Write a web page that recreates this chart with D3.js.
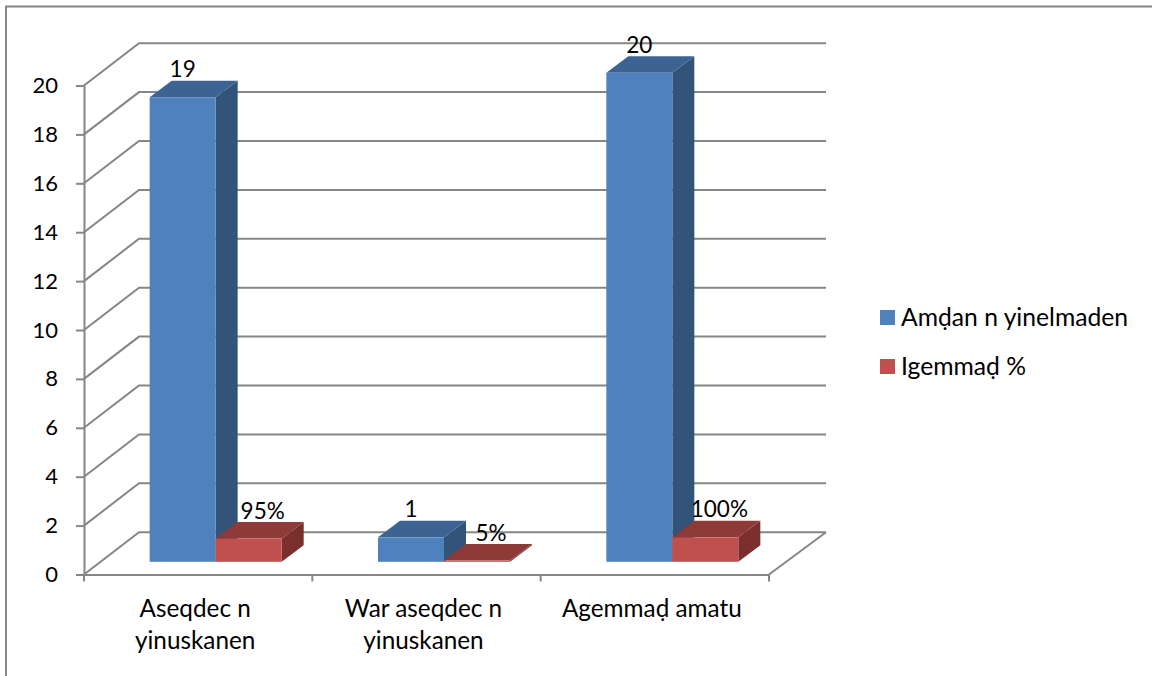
<!DOCTYPE html>
<html>
<head>
<meta charset="utf-8">
<style>
  html, body { margin: 0; padding: 0; background: #fff; }
  svg { display: block; }
  text { font-family: Lato, "Noto Sans", sans-serif; fill: #000; }
  .axis text { font-size: 22px; }
  .axis path, .axis line, .grid { stroke: #868686; stroke-width: 2px; fill: none; }
</style>
<script src="https://cdn.jsdelivr.net/npm/d3@7"></script>
</head>
<body>
<div id="chart"></div>
<script>
var width = 1152,
    height = 676;

// values
var categories = ["Aseqdec n yinuskanen", "War aseqdec n yinuskanen", "Agemmaḍ amatu"];
var categoryLines = [["Aseqdec n", "yinuskanen"], ["War aseqdec n", "yinuskanen"], ["Agemmaḍ amatu"]];
var seriesNames = ["Amḍan n yinelmaden", "Igemmaḍ %"];
var amdan = [19, 1, 20];
var igemmad = [0.95, 0.05, 1];
var yTicks = [0, 2, 4, 6, 8, 10, 12, 14, 16, 18, 20];

var front = ["#4f81bd", "#c0504d"],
    top3d = ["#3c6391", "#8e3a38"],
    side = ["#325479", "#7a2f2d"];

// 3d box of the plot
var wallX = 55, wallY = -42.3;   // depth of the floor
var barDX = 22, barDY = -16.5;   // depth of a bar
var floorDX = 17.5, floorDY = -12.7; // where the bars stand on the floor

var x = d3.scaleBand().domain(categories).range([84, 769]);
var y = d3.scaleLinear().domain([0, 20]).range([574.5, 85.5]);
var xInner = d3.scaleBand().domain(seriesNames).range([0, 132]);
var groupOffset = (x.bandwidth() - 132) / 2 + floorDX;

var svg = d3.select("#chart").append("svg")
    .attr("width", width)
    .attr("height", height);

// frame, cut off on the right and at the bottom
svg.append("path")
    .attr("d", "M6,676V6.5H1152")
    .attr("fill", "none")
    .attr("stroke", "#868686")
    .attr("stroke-width", 2);

// wall and floor lines
svg.append("g").selectAll("path")
    .data(yTicks)
    .enter().append("path")
    .attr("class", "grid")
    .attr("d", function(d) {
      return d3.line()([
        [x.range()[0], y(d)],
        [x.range()[0] + wallX, y(d) + wallY],
        [x.range()[1] + wallX + 2, y(d) + wallY]
      ]);
    });

svg.append("path")
    .attr("class", "grid")
    .attr("d", d3.line()([
      [x.range()[1], y(0)],
      [x.range()[1] + wallX + 2, y(0) + wallY]
    ]));

// axes
svg.append("g")
    .attr("class", "axis")
    .attr("transform", "translate(84,0)")
    .call(d3.axisLeft(y).tickValues(yTicks).tickSize(8).tickPadding(18).tickSizeOuter(0));

var xAxis = svg.append("g")
    .attr("class", "axis")
    .attr("transform", "translate(0," + y(0) + ")")
    .call(d3.axisBottom(x).tickSize(0).tickFormat(""));

xAxis.selectAll(".tick").remove();

xAxis.selectAll("line.cat")
    .data([0, 1, 2, 3])
    .enter().append("line")
    .attr("class", "cat")
    .attr("x1", function(d) { return x.range()[0] + d * x.step(); })
    .attr("x2", function(d) { return x.range()[0] + d * x.step(); })
    .attr("y1", 0)
    .attr("y2", 7);

// category labels
svg.append("g").selectAll("text")
    .data(categories)
    .enter().append("text")
    .attr("class", "cat-label")
    .attr("text-anchor", "middle")
    .attr("font-size", 24.3)
    .each(function(d, i) {
      d3.select(this).selectAll("tspan")
        .data(categoryLines[i])
        .enter().append("tspan")
        .attr("x", x(d) + x.bandwidth() / 2 - 3)
        .attr("y", function(l, j) { return 617 + j * 32; })
        .text(function(l) { return l; });
    });

// bars
function drawBar(g, cat, s, value, label) {
  var x0 = x(cat) + groupOffset + xInner(seriesNames[s]),
      x1 = x0 + xInner.bandwidth(),
      y0 = y(0) + floorDY,
      y1 = y(value) + floorDY;

  g.append("path")
      .attr("fill", side[s])
      .attr("d", d3.line()([[x1, y0], [x1 + barDX, y0 + barDY], [x1 + barDX, y1 + barDY], [x1, y1]]) + "Z");
  g.append("path")
      .attr("fill", top3d[s])
      .attr("d", d3.line()([[x0, y1], [x0 + barDX, y1 + barDY], [x1 + barDX, y1 + barDY], [x1, y1]]) + "Z");
  g.append("rect")
      .attr("x", x0)
      .attr("y", y1)
      .attr("width", x1 - x0)
      .attr("height", y0 - y1)
      .attr("fill", front[s]);

  return {x: (x0 + x1) / 2 + (s == 1 ? 14 : 0), y: y1 - 20, text: label};
}

var labels = [];
var bars = svg.append("g");
categories.forEach(function(c, i) {
  var g = bars.append("g");
  labels.push(drawBar(g, c, 0, amdan[i], d3.format("d")(amdan[i])));
  labels.push(drawBar(g, c, 1, igemmad[i], d3.format(".0%")(igemmad[i])));
});

svg.append("g").selectAll("text")
    .data(labels)
    .enter().append("text")
    .attr("text-anchor", "middle")
    .attr("font-size", 22.5)
    .attr("x", function(d) { return d.x; })
    .attr("y", function(d) { return d.y; })
    .text(function(d) { return d.text; });

// legend
var legend = svg.append("g").selectAll("g")
    .data(seriesNames)
    .enter().append("g")
    .attr("transform", function(d, i) { return "translate(880," + (310 + i * 49) + ")"; });

legend.append("rect")
    .attr("width", 15)
    .attr("height", 15)
    .attr("fill", function(d, i) { return front[i]; });

legend.append("text")
    .attr("x", 21)
    .attr("y", 16)
    .attr("font-size", 24.7)
    .text(function(d) { return d; });
</script>
</body>
</html>
